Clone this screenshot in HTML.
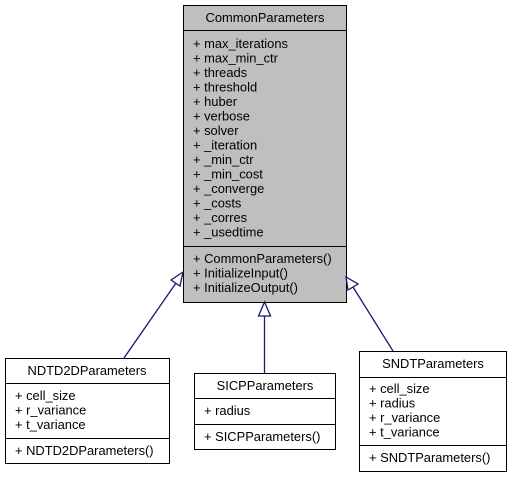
<!DOCTYPE html>
<html><head><meta charset="utf-8"><style>
html,body{margin:0;padding:0;background:#fff;}
svg{display:block;}
text{font-family:"Liberation Sans",Arial,sans-serif;font-size:12.9px;fill:#000;}
</style></head><body>
<svg width="511" height="477" viewBox="0 0 511 477" xmlns="http://www.w3.org/2000/svg">
<!-- main box -->
<rect x="183.5" y="5.5" width="163" height="297" fill="#bfbfbf" stroke="#000" stroke-width="1"/>
<line x1="183.5" y1="30.5" x2="346.5" y2="30.5" stroke="#000"/>
<line x1="183.5" y1="246.5" x2="346.5" y2="246.5" stroke="#000"/>
<text x="265" y="22" text-anchor="middle">CommonParameters</text>
<text x="193" y="48">+ max_iterations</text>
<text x="193" y="62.5">+ max_min_ctr</text>
<text x="193" y="77">+ threads</text>
<text x="193" y="91.5">+ threshold</text>
<text x="193" y="106">+ huber</text>
<text x="193" y="120.5">+ verbose</text>
<text x="193" y="135">+ solver</text>
<text x="193" y="149.5">+ _iteration</text>
<text x="193" y="164">+ _min_ctr</text>
<text x="193" y="178.5">+ _min_cost</text>
<text x="193" y="193">+ _converge</text>
<text x="193" y="207.5">+ _costs</text>
<text x="193" y="222">+ _corres</text>
<text x="193" y="236.5">+ _usedtime</text>
<text x="193" y="263">+ CommonParameters()</text>
<text x="193" y="277.5">+ InitializeInput()</text>
<text x="193" y="292">+ InitializeOutput()</text>

<!-- connectors -->
<g stroke="#191970" stroke-width="1.3" fill="#fff">
<line x1="124" y1="358" x2="176" y2="283"/>
<polygon points="183,272 171,280 180,286"/>
<line x1="264.5" y1="373" x2="264.5" y2="316"/>
<polygon points="264.5,302 258.5,316 270.5,316"/>
<line x1="393" y1="351" x2="353" y2="287"/>
<polygon points="346,277 348,290 358,284"/>
</g>

<!-- NDTD2D -->
<rect x="5.5" y="358.5" width="164" height="105" fill="#fff" stroke="#000"/>
<line x1="5.5" y1="383.5" x2="169.5" y2="383.5" stroke="#000"/>
<line x1="5.5" y1="438.5" x2="169.5" y2="438.5" stroke="#000"/>
<text x="87" y="375" text-anchor="middle">NDTD2DParameters</text>
<text x="15" y="400">+ cell_size</text>
<text x="15" y="414.5">+ r_variance</text>
<text x="15" y="429">+ t_variance</text>
<text x="15" y="455">+ NDTD2DParameters()</text>

<!-- SICP -->
<rect x="194.5" y="373.5" width="141" height="76" fill="#fff" stroke="#000"/>
<line x1="194.5" y1="398.5" x2="335.5" y2="398.5" stroke="#000"/>
<line x1="194.5" y1="424.5" x2="335.5" y2="424.5" stroke="#000"/>
<text x="265" y="390" text-anchor="middle">SICPParameters</text>
<text x="204" y="415">+ radius</text>
<text x="204" y="441">+ SICPParameters()</text>

<!-- SNDT -->
<rect x="359.5" y="351.5" width="147" height="120" fill="#fff" stroke="#000"/>
<line x1="359.5" y1="377.5" x2="506.5" y2="377.5" stroke="#000"/>
<line x1="359.5" y1="445.5" x2="506.5" y2="445.5" stroke="#000"/>
<text x="433" y="368" text-anchor="middle">SNDTParameters</text>
<text x="369" y="393">+ cell_size</text>
<text x="369" y="407.5">+ radius</text>
<text x="369" y="422">+ r_variance</text>
<text x="369" y="436.5">+ t_variance</text>
<text x="369" y="462">+ SNDTParameters()</text>
</svg>
</body></html>
